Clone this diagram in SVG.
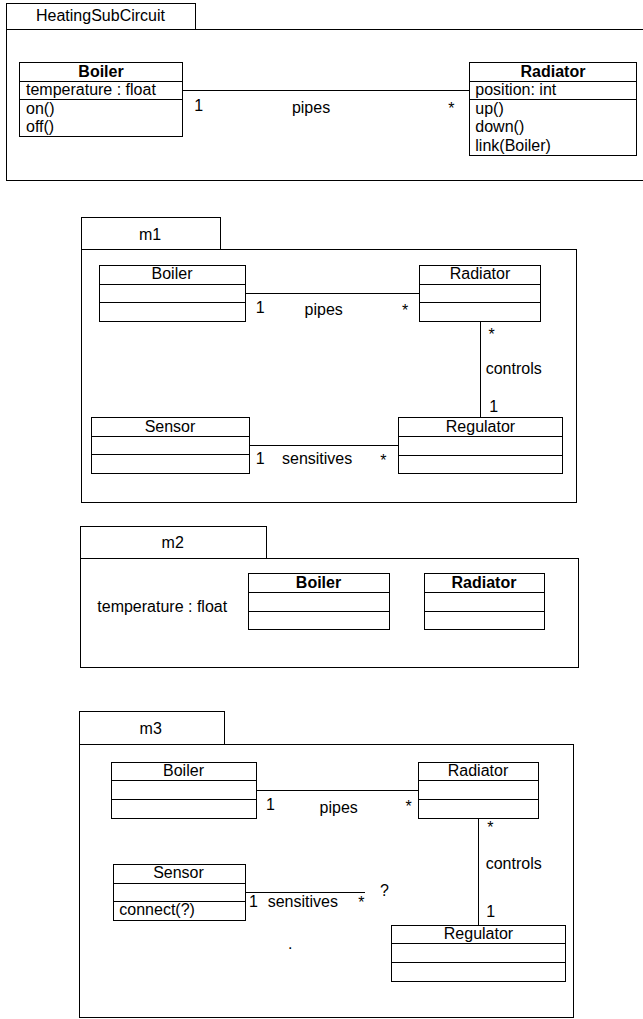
<svg xmlns="http://www.w3.org/2000/svg" width="643" height="1019" viewBox="0 0 643 1019">
<style>
.bx{fill:#fff;stroke:#000;stroke-width:1}
.ln{fill:none;stroke:#000;stroke-width:1}
text{font-family:"Liberation Sans",Arial,Helvetica,sans-serif;fill:#000}
.m{font-size:16px}
.b{font-weight:bold}
.c{text-anchor:middle}
</style>
<rect width="643" height="1019" fill="#fff"/>

<!-- HeatingSubCircuit -->
<g id="pkg-top">
<rect class="bx" x="6.5" y="3.5" width="189" height="26"/>
<rect class="bx" x="6.5" y="29.5" width="650" height="151"/>
<text class="m c" x="100.5" y="20.7">HeatingSubCircuit</text>
</g>
<g id="top-boiler">
<rect class="bx" x="19.5" y="62.5" width="163" height="74"/>
<line class="ln" x1="19.5" y1="81.5" x2="182.5" y2="81.5"/>
<line class="ln" x1="19.5" y1="99.5" x2="182.5" y2="99.5"/>
<text class="m b c" x="101" y="76.7">Boiler</text>
<text class="m" x="26" y="95">temperature : float</text>
<text class="m" x="26" y="114">on()</text>
<text class="m" x="26" y="132">off()</text>
</g>
<g id="top-radiator">
<rect class="bx" x="469.5" y="62.5" width="167" height="93"/>
<line class="ln" x1="469.5" y1="81.5" x2="636.5" y2="81.5"/>
<line class="ln" x1="469.5" y1="99.5" x2="636.5" y2="99.5"/>
<text class="m b c" x="553" y="76.7">Radiator</text>
<text class="m" x="475.3" y="95">position: int</text>
<text class="m" x="475.3" y="113.5">up()</text>
<text class="m" x="475.3" y="132">down()</text>
<text class="m" x="475.3" y="150.5">link(Boiler)</text>
</g>

<!-- m1 -->
<g id="pkg-m1">
<rect class="bx" x="81.5" y="217.5" width="139" height="32"/>
<rect class="bx" x="81.5" y="249.5" width="495" height="253"/>
<text class="m c" x="150" y="240">m1</text>
</g>
<g id="m1-boiler">
<rect class="bx" x="99.5" y="265.5" width="146" height="56"/>
<line class="ln" x1="99.5" y1="284.5" x2="245.5" y2="284.5"/>
<line class="ln" x1="99.5" y1="302.5" x2="245.5" y2="302.5"/>
<text class="m c" x="172" y="279.3">Boiler</text>
</g>
<g id="m1-radiator">
<rect class="bx" x="419.5" y="265.5" width="121" height="56"/>
<line class="ln" x1="419.5" y1="284.5" x2="540.5" y2="284.5"/>
<line class="ln" x1="419.5" y1="302.5" x2="540.5" y2="302.5"/>
<text class="m c" x="480" y="279.3">Radiator</text>
</g>
<g id="m1-sensor">
<rect class="bx" x="91.5" y="417.5" width="158" height="56"/>
<line class="ln" x1="91.5" y1="436.5" x2="249.5" y2="436.5"/>
<line class="ln" x1="91.5" y1="454.5" x2="249.5" y2="454.5"/>
<text class="m c" x="170" y="431.7">Sensor</text>
</g>
<g id="m1-regulator">
<rect class="bx" x="398.5" y="417.5" width="164" height="56"/>
<line class="ln" x1="398.5" y1="436.5" x2="562.5" y2="436.5"/>
<line class="ln" x1="398.5" y1="455.5" x2="562.5" y2="455.5"/>
<text class="m c" x="480.5" y="431.7">Regulator</text>
</g>

<!-- m2 -->
<g id="pkg-m2">
<rect class="bx" x="80.5" y="526.5" width="186" height="32"/>
<rect class="bx" x="80.5" y="558.5" width="498" height="109"/>
<text class="m c" x="172.7" y="547.7">m2</text>
<text class="m" x="97.3" y="611.5">temperature : float</text>
</g>
<g id="m2-boiler">
<rect class="bx" x="248.5" y="573.5" width="141" height="56"/>
<line class="ln" x1="248.5" y1="592.5" x2="389.5" y2="592.5"/>
<line class="ln" x1="248.5" y1="611.5" x2="389.5" y2="611.5"/>
<text class="m b c" x="318.5" y="587.7">Boiler</text>
</g>
<g id="m2-radiator">
<rect class="bx" x="424.5" y="573.5" width="120" height="56"/>
<line class="ln" x1="424.5" y1="592.5" x2="544.5" y2="592.5"/>
<line class="ln" x1="424.5" y1="611.5" x2="544.5" y2="611.5"/>
<text class="m b c" x="484" y="587.7">Radiator</text>
</g>

<!-- m3 -->
<g id="pkg-m3">
<rect class="bx" x="79.5" y="711.5" width="145" height="33"/>
<rect class="bx" x="79.5" y="744.5" width="494" height="273"/>
<text class="m c" x="150.7" y="734.3">m3</text>
<text class="m" x="288" y="949">.</text>
</g>
<g id="m3-boiler">
<rect class="bx" x="111.5" y="762.5" width="145" height="56"/>
<line class="ln" x1="111.5" y1="780.5" x2="256.5" y2="780.5"/>
<line class="ln" x1="111.5" y1="799.5" x2="256.5" y2="799.5"/>
<text class="m c" x="183.5" y="776">Boiler</text>
</g>
<g id="m3-radiator">
<rect class="bx" x="418.5" y="762.5" width="120" height="56"/>
<line class="ln" x1="418.5" y1="780.5" x2="538.5" y2="780.5"/>
<line class="ln" x1="418.5" y1="799.5" x2="538.5" y2="799.5"/>
<text class="m c" x="478" y="776">Radiator</text>
</g>
<g id="m3-sensor">
<rect class="bx" x="113.5" y="864.5" width="132" height="56"/>
<line class="ln" x1="113.5" y1="883.5" x2="245.5" y2="883.5"/>
<line class="ln" x1="113.5" y1="901.5" x2="245.5" y2="901.5"/>
<text class="m c" x="178.5" y="878.3">Sensor</text>
<text class="m" x="119.3" y="915">connect(?)</text>
</g>
<g id="m3-regulator">
<rect class="bx" x="391.5" y="925.5" width="174" height="56"/>
<line class="ln" x1="391.5" y1="943.5" x2="565.5" y2="943.5"/>
<line class="ln" x1="391.5" y1="962.5" x2="565.5" y2="962.5"/>
<text class="m c" x="478.5" y="939.3">Regulator</text>
</g>

<!-- connectors -->
<g id="connectors">
<line class="ln" x1="182.5" y1="90.5" x2="469.5" y2="90.5"/>
<text class="m" x="194.3" y="110.5">1</text>
<text class="m c" x="311" y="113">pipes</text>
<text class="m c" x="451.3" y="113.5">*</text>

<line class="ln" x1="245.5" y1="293.5" x2="419.5" y2="293.5"/>
<text class="m" x="255.7" y="313.3">1</text>
<text class="m c" x="323.7" y="315">pipes</text>
<text class="m c" x="405" y="316">*</text>
<line class="ln" x1="480.5" y1="321.5" x2="480.5" y2="417.5"/>
<text class="m c" x="491.7" y="340">*</text>
<text class="m" x="485.7" y="374.3">controls</text>
<text class="m" x="489.3" y="411.7">1</text>
<line class="ln" x1="249.5" y1="445.5" x2="398.5" y2="445.5"/>
<text class="m" x="255.7" y="464">1</text>
<text class="m" x="282" y="464">sensitives</text>
<text class="m c" x="383.3" y="466">*</text>

<line class="ln" x1="256.5" y1="790.5" x2="418.5" y2="790.5"/>
<text class="m" x="266" y="810">1</text>
<text class="m c" x="338.7" y="813">pipes</text>
<text class="m c" x="408.7" y="812">*</text>
<line class="ln" x1="478.5" y1="818.5" x2="478.5" y2="925.5"/>
<text class="m c" x="490.3" y="833">*</text>
<text class="m" x="485.7" y="869.3">controls</text>
<text class="m" x="486.3" y="916.7">1</text>
<line class="ln" x1="245.5" y1="892.5" x2="365" y2="892.5"/>
<text class="m" x="249" y="907.3">1</text>
<text class="m" x="267.7" y="907.3">sensitives</text>
<text class="m c" x="361.3" y="908">*</text>
<text class="m" x="380" y="895.7">?</text>
</g>
</svg>
